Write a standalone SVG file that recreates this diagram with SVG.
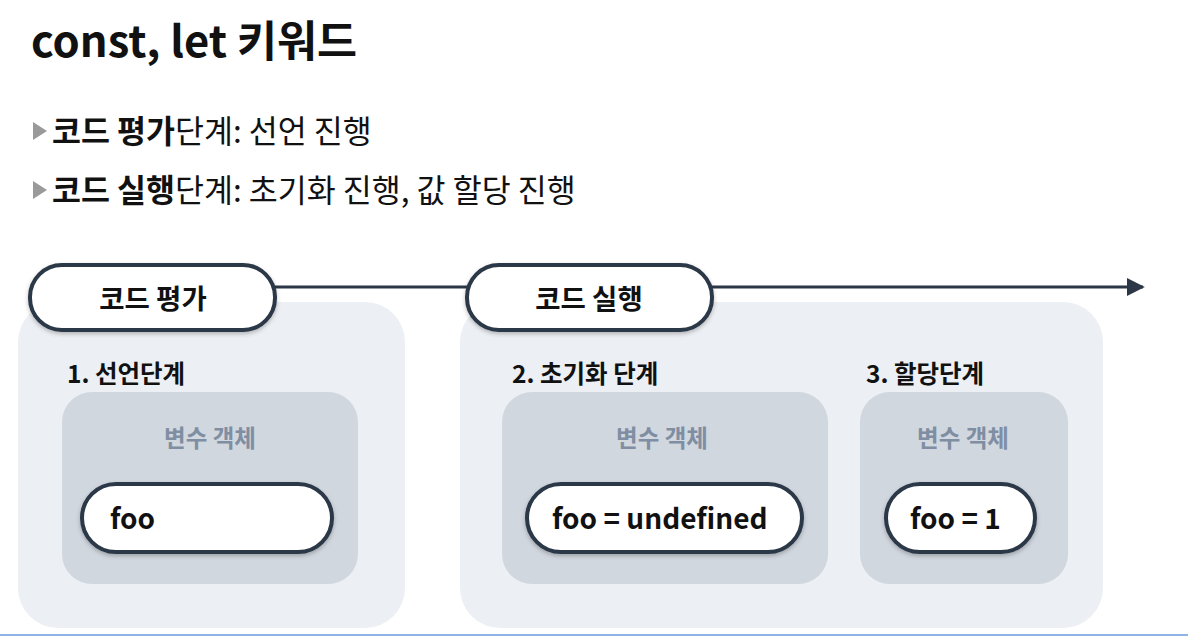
<svg xmlns="http://www.w3.org/2000/svg" width="1188" height="636" viewBox="0 0 1188 636">
<defs>
<style>
text{font-family:"Noto Sans CJK KR","Noto Sans",sans-serif;}
.title{font-size:43.5px;font-weight:700;fill:#111;}
.bul{font-size:31.5px;fill:#111;}
.b{font-weight:700;}
.panel{fill:#eceff3;}
.inner{fill:#d1d7df;}
.pill{fill:#fff;stroke:#2b3747;stroke-width:4;}
.ph{font-size:27.5px;font-weight:700;fill:#111;text-anchor:middle;}
.stage{font-size:24.5px;font-weight:700;fill:#111;}
.vo{font-size:23.5px;font-weight:700;fill:#7f8ea2;text-anchor:middle;}
.val{font-size:28px;font-weight:700;fill:#111;}
.conn{stroke:#2b3747;stroke-width:3;fill:none;}
</style>
<marker id="arr" viewBox="0 0 10 10" refX="9" refY="5" markerWidth="6" markerHeight="6" markerUnits="strokeWidth" orient="auto">
<path d="M0,0 L10,5 L0,10 z" fill="#2b3747"/>
</marker>
<filter id="sh" x="-10%" y="-20%" width="120%" height="150%">
<feDropShadow dx="0" dy="2" stdDeviation="2" flood-color="#000" flood-opacity="0.25"/>
</filter>
</defs>
<rect width="1188" height="636" fill="#fff"/>
<text class="title" x="31" y="57">const, let 키워드</text>
<g id="bullets">
<polygon points="33,122 47,131 33,140" fill="#9a9a9a"/>
<text class="bul" x="52" y="143"><tspan class="b">코드 평가</tspan>단계: 선언 진행</text>
<polygon points="33,181 47,190 33,199" fill="#9a9a9a"/>
<text class="bul" x="52" y="202"><tspan class="b">코드 실행</tspan>단계: 초기화 진행, 값 할당 진행</text>
</g>
<g id="connectors">
<path class="conn" d="M275,287 L1143,287" marker-end="url(#arr)"/>
</g>
<g id="panel-eval">
<rect class="panel" x="18" y="302" width="387" height="326" rx="40"/>
<text class="stage" x="67" y="383">1. 선언단계</text>
<rect class="inner" x="62" y="392" width="296" height="192" rx="30"/>
<text class="vo" x="210" y="447">변수 객체</text>
<rect class="pill" x="82" y="484" width="250" height="68" rx="34" filter="url(#sh)"/>
<text class="val" x="110" y="529">foo</text>
</g>
<g id="panel-exec">
<rect class="panel" x="460" y="302" width="643" height="326" rx="40"/>
<text class="stage" x="512" y="383">2. 초기화 단계</text>
<rect class="inner" x="502" y="392" width="326" height="192" rx="30"/>
<text class="vo" x="662" y="447">변수 객체</text>
<rect class="pill" x="527" y="484" width="275" height="68" rx="34" filter="url(#sh)"/>
<text class="val" x="552" y="529">foo = undefined</text>
<text class="stage" x="866" y="383">3. 할당단계</text>
<rect class="inner" x="860" y="392" width="208" height="192" rx="30"/>
<text class="vo" x="963" y="447">변수 객체</text>
<rect class="pill" x="886" y="484" width="149" height="68" rx="34" filter="url(#sh)"/>
<text class="val" x="910" y="529">foo = 1</text>
</g>
<g id="node-eval">
<rect class="pill" x="30" y="265" width="245" height="65" rx="32" filter="url(#sh)"/>
<text class="ph" x="153" y="309">코드 평가</text>
</g>
<g id="node-exec">
<rect class="pill" x="467" y="265" width="245" height="65" rx="32" filter="url(#sh)"/>
<text class="ph" x="589" y="309">코드 실행</text>
</g>
<rect x="0" y="634" width="1188" height="2" fill="#8fb3e6"/>
</svg>
